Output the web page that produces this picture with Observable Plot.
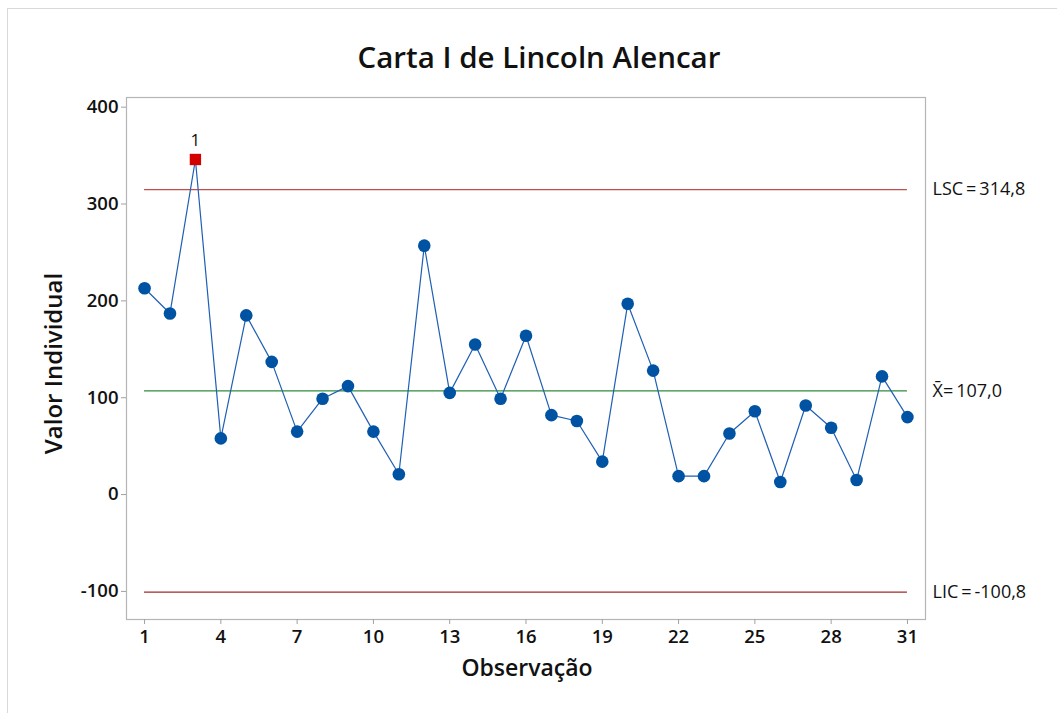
<!DOCTYPE html>
<html>
<head>
<meta charset="utf-8">
<script src="https://cdn.jsdelivr.net/npm/d3@7"></script>
<script src="https://cdn.jsdelivr.net/npm/@observablehq/plot@0.6"></script>
<style>
  html, body { margin: 0; padding: 0; background: #fff; }
  #wrap { position: relative; width: 1057px; height: 713px; overflow: hidden; }
  #border { position: absolute; left: 7px; top: 8px; right: -10px; bottom: -10px; border-left: 1px solid #d9d9d9; border-top: 1px solid #d9d9d9; pointer-events: none; }
</style>
</head>
<body>
<div id="wrap"><div id="border"></div></div>
<script>
const observations = [1,2,3,4,5,6,7,8,9,10,11,12,13,14,15,16,17,18,19,20,21,22,23,24,25,26,27,28,29,30,31];
const values = [213,187,346,58,185,137,65,99,112,65,21,257,105,155,99,164,82,76,34,197,128,19,19,63,86,13,92,69,15,122,80];
const outOfControl = [3];
const limitNames = ["LSC", "X\u0304", "LIC"];
const limitValues = [314.8, 107.0, -100.8];
const limitLabels = ["LSC\u2009=\u2009314,8", "X\u0304=\u2009107,0", "LIC\u2009=\u2009-100,8"];
const limitColors = ["#c0504d", "#2e8b3e", "#a02828"];
const xTicks = [1,4,7,10,13,16,19,22,25,28,31];
const yTicks = [-100,0,100,200,300,400];

const points = observations.map((o, i) => ({obs: o, value: values[i], out: outOfControl.includes(o)}));
const limits = limitNames.map((n, i) => ({name: n, value: limitValues[i], label: limitLabels[i], color: limitColors[i]}));
const flagged = points.filter(d => d.out);
const normal = points.filter(d => !d.out);

const font = "'Open Sans', 'Noto Sans', sans-serif";

const chart = Plot.plot({
  width: 1057,
  height: 713,
  marginLeft: 126,
  marginRight: 132,
  marginTop: 97,
  marginBottom: 94,
  style: {fontFamily: font, background: "#fff"},
  x: {domain: [0.29, 31.71], ticks: xTicks},
  y: {domain: [-129, 410]},
  marks: [
    Plot.frame({stroke: "#b5b5b5", strokeWidth: 1.2}),
    Plot.axisY({ticks: yTicks, tickSize: 5, tickPadding: 3, fontSize: 18.5, fontWeight: 600, stroke: "#a0a0a0", fill: "#111", label: null, tickFormat: d => String(d)}),
    Plot.axisX({ticks: xTicks, tickSize: 5, tickPadding: 5, fontSize: 18.5, fontWeight: 600, stroke: "#a0a0a0", fill: "#111", label: null, tickFormat: d => String(d)}),
    Plot.ruleY(limits, {y: "value", x1: 1, x2: 31, stroke: "color", strokeWidth: 1.3}),
    Plot.text(limits, {y: "value", text: "label", frameAnchor: "right", textAnchor: "start", dx: 7, dy: 0, fontSize: 18, fill: "#111"}),
    Plot.line(points, {x: "obs", y: "value", stroke: "#1f5fb4", strokeWidth: 1.2}),
    Plot.dot(normal, {x: "obs", y: "value", r: 6.3, fill: "#0052a3", stroke: "none"}),
    Plot.dot(flagged, {x: "obs", y: "value", r: 6.4, symbol: "square", fill: "#d40000", stroke: "none"}),
    Plot.text(flagged, {x: "obs", y: "value", text: d => "1", dy: -19, fontSize: 17, fill: "#111"}),
    Plot.text(["Carta I de Lincoln Alencar"], {frameAnchor: "top", text: d => d, dx: 13, dy: -50, fontSize: 29.5, fontWeight: 600, fill: "#111"}),
    Plot.text(["Valor Individual"], {frameAnchor: "left", textAnchor: "middle", text: d => d, rotate: -90, dx: -72, dy: 5, fontSize: 24, fontWeight: 600, fill: "#111"}),
    Plot.text(["Observação"], {frameAnchor: "bottom", textAnchor: "middle", text: d => d, dx: 1, dy: 56, fontSize: 23, fontWeight: 600, fill: "#111"})
  ]
});
document.getElementById("wrap").prepend(chart);
</script>
</body>
</html>
